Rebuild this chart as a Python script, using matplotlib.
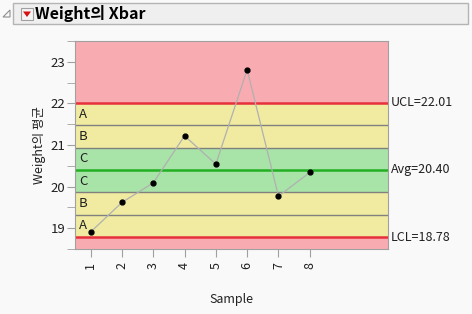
import matplotlib.pyplot as plt
from matplotlib.patches import Rectangle, Polygon

plt.rcParams['font.family'] = ['Noto Sans CJK KR', 'DejaVu Sans']

samples = [1, 2, 3, 4, 5, 6, 7, 8]
means = [18.91, 19.62, 20.09, 21.22, 20.54, 22.81, 19.77, 20.34]
ucl = 22.01
avg = 20.40
lcl = 18.78
zone_labels = ['A', 'B', 'C', 'C', 'B', 'A']

fig = plt.figure(figsize=(4.72, 3.14), dpi=100)
fig.patch.set_facecolor('#f9f9f9')

# header bar
W, H = 472, 314
def fx(px):
    return px / W
def fy(py):
    return 1 - py / H

fig.patches.append(Rectangle((fx(13), fy(24)), fx(468) - fx(13), fy(3) - fy(24),
                             transform=fig.transFigure, facecolor='#efefef',
                             edgecolor='#b4b4b4', lw=1))
fig.patches.append(Polygon([(fx(3), fy(17)), (fx(10), fy(17)), (fx(10), fy(10))],
                           closed=True, transform=fig.transFigure,
                           facecolor='none', edgecolor='#909090', lw=0.8))
fig.patches.append(Rectangle((fx(21), fy(20)), fx(33) - fx(21), fy(8) - fy(20),
                             transform=fig.transFigure, facecolor='#f4f4f4',
                             edgecolor='#a0a0a0', lw=0.8))
fig.patches.append(Polygon([(fx(23), fy(11.5)), (fx(31), fy(11.5)), (fx(27), fy(17))],
                           closed=True, transform=fig.transFigure,
                           facecolor='#d81010', edgecolor='none'))
fig.text(fx(35), fy(13.5), 'Weight의 Xbar', fontsize=11.5, fontweight='bold',
         va='center', ha='left', color='black')

ax = fig.add_axes([fx(75), fy(249), fx(388) - fx(75), fy(41) - fy(249)])
ax.set_xlim(0.5, 10.5)
ax.set_ylim(18.5, 23.5)

sigma = (ucl - avg) / 3
bounds = [ucl, avg + 2 * sigma, avg + sigma, avg, avg - sigma, avg - 2 * sigma, lcl]

ax.axhspan(ucl, 23.5, color='#f8abb1', lw=0)
ax.axhspan(18.5, lcl, color='#f8abb1', lw=0)
ax.axhspan(avg + sigma, ucl, color='#f0eba0', lw=0)
ax.axhspan(lcl, avg - sigma, color='#f0eba0', lw=0)
ax.axhspan(avg - sigma, avg + sigma, color='#a8e3a8', lw=0)

for b in bounds[1:3] + bounds[4:6]:
    ax.axhline(b, color='#808080', lw=1)
ax.axhline(ucl, color='#e8303c', lw=1.8)
ax.axhline(lcl, color='#e8303c', lw=1.8)
ax.axhline(avg, color='#22b022', lw=1.8)

for i, lab in enumerate(zone_labels):
    mid = (bounds[i] + bounds[i + 1]) / 2
    ax.text(0.62, mid, lab, fontsize=9.5, va='center', ha='left', color='#202020')

ax.plot(samples, means, color='#b0b0b0', lw=0.9, zorder=3)
ax.plot(samples, means, 'o', color='black', ms=3.5, zorder=4)

ax.text(10.6, ucl, 'UCL=22.01', fontsize=9, va='center', ha='left', color='#202020')
ax.text(10.6, avg, 'Avg=20.40', fontsize=9, va='center', ha='left', color='#202020')
ax.text(10.6, lcl, 'LCL=18.78', fontsize=9, va='center', ha='left', color='#202020')

ax.set_xticks(samples)
ax.set_xticklabels([str(s) for s in samples], rotation=90, fontsize=9)
ax.set_yticks([19, 20, 21, 22, 23])
ax.set_yticks([18.5, 19.5, 20.5, 21.5, 22.5, 23.5], minor=True)
ax.tick_params(axis='both', which='both', colors='#a0a0a0', labelcolor='#202020', length=6)
ax.tick_params(axis='y', labelsize=9.5, pad=1)
for s in ax.spines.values():
    s.set_color('#a0a0a0')

ax.set_ylabel('Weight의 평균', fontsize=9, color='#202020', labelpad=3)
ax.set_xlabel('Sample', fontsize=9, color='#202020', labelpad=17)

fig.savefig('out.png', dpi=100, facecolor=fig.get_facecolor())
